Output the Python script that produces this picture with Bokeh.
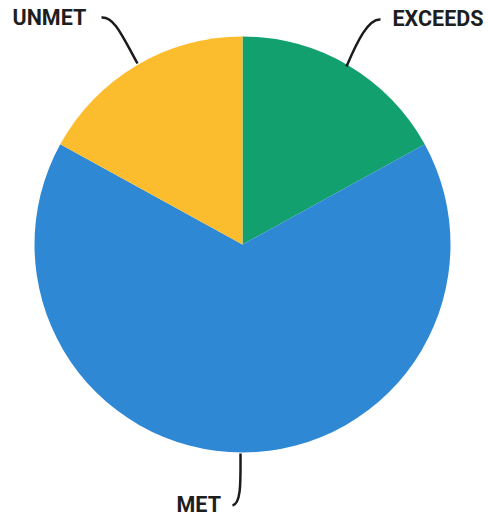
import math
from bokeh.plotting import figure
from bokeh.models import Range1d, ColumnDataSource
from bokeh.core.properties import value
from bokeh.embed import file_html
from bokeh.resources import INLINE

# Data
categories = ["EXCEEDS", "MET", "UNMET"]
shares = [17, 66, 17]
colors = ["#12a06f", "#2f88d4", "#fbbd2d"]

W, H = 488, 517
def Y(y_img):
    return H - y_img

p = figure(width=W, height=H, output_backend="svg", toolbar_location=None,
           x_range=Range1d(0, W), y_range=Range1d(0, H),
           min_border=0, min_border_left=0, min_border_right=0,
           min_border_top=0, min_border_bottom=0)
p.axis.visible = False
p.grid.visible = False
p.outline_line_color = None
p.background_fill_color = "white"
p.border_fill_color = "white"

cx, cy, r = 242, Y(244), 208
total = sum(shares)
starts, ends = [], []
a = math.pi / 2
for s in shares:
    starts.append(a)
    a -= 2 * math.pi * s / total
    ends.append(a)

src = ColumnDataSource(dict(start=starts, end=ends, color=colors, cat=categories))
p.wedge(x=cx, y=cy, radius=r, start_angle="start", end_angle="end",
        direction="clock", fill_color="color", line_color=None, source=src)

# Leader lines
lc = "#1b1b1b"
p.bezier(x0=[101], y0=[Y(17)], x1=[137], y1=[Y(63)],
         cx0=[114], cy0=[Y(16)], cx1=[122], cy1=[Y(36)], line_color=lc, line_width=2.5)
p.bezier(x0=[380], y0=[Y(19)], x1=[346], y1=[Y(66)],
         cx0=[368], cy0=[Y(18)], cx1=[357], cy1=[Y(40)], line_color=lc, line_width=2.5)
p.bezier(x0=[240], y0=[Y(453)], x1=[232], y1=[Y(505)],
         cx0=[240], cy0=[Y(480)], cx1=[241], cy1=[Y(503)], line_color=lc, line_width=2.5)

# Labels
fs = "21.5px"
p.text(x=[12], y=[Y(17)], text=["UNMET"], text_font=value("Roboto"),
       text_font_style="bold", text_font_size=fs, text_color="#1e1e1e",
       text_baseline="middle", text_align="left")
p.text(x=[392], y=[Y(18)], text=["EXCEEDS"], text_font=value("Roboto"),
       text_font_style="bold", text_font_size=fs, text_color="#1e1e1e",
       text_baseline="middle", text_align="left")
p.text(x=[176], y=[Y(504)], text=["MET"], text_font=value("Roboto"),
       text_font_style="bold", text_font_size=fs, text_color="#1e1e1e",
       text_baseline="middle", text_align="left")

open("out.html", "w").write(file_html(p, INLINE))
